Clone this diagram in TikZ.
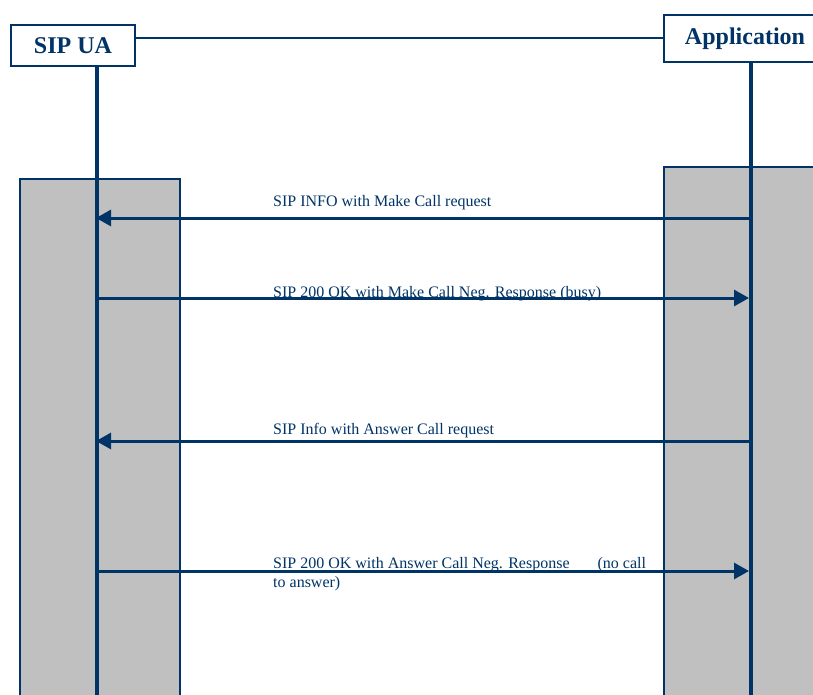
\documentclass[tikz,border=0pt]{standalone}
\usepackage{fontspec}
\setmainfont{Liberation Serif}
\usetikzlibrary{positioning,arrows.meta}
\definecolor{sipblue}{RGB}{0,51,102}
\definecolor{blkgray}{RGB}{192,192,192}

\begin{document}
\begin{tikzpicture}[x=1pt, y=-1pt,
  actor/.style={draw=sipblue, line width=1.6pt, fill=white, text=sipblue,
                font=\fontsize{24}{28}\selectfont\bfseries, inner sep=0pt},
  blk/.style={draw=sipblue, line width=1.8pt, fill=blkgray},
  life/.style={draw=sipblue, line width=3.4pt},
  msg/.style={-{Triangle[length=15pt,width=16pt]}, draw=sipblue, line width=3pt},
  lbl/.style={anchor=base west, text=sipblue, inner sep=0pt, align=left,
              font=\fontsize{16}{19}\selectfont}
]
\useasboundingbox (0,0) rectangle (813,695);

% grey activation blocks
\draw[blk] (20,179) rectangle (180,710);
\draw[blk] (664,167) rectangle (830,710);

% actors
\node[actor, minimum width=124pt, minimum height=41pt] (ua)  at (73,45.5)  {SIP UA};
\node[actor, minimum width=162pt, minimum height=47pt] (app) at (745,38.5) {Application};
\draw[draw=sipblue, line width=2pt] (ua.east |- app.west) -- (app.west);

% lifelines
\coordinate (uatop)  at ([xshift=24pt]ua.south);
\coordinate (apptop) at ([xshift=6pt]app.south);
\coordinate (uabot)  at (uatop |- 0,710);
\coordinate (appbot) at (apptop |- 0,710);
\draw[life] (uatop) -- (uabot);
\draw[life] (apptop) -- (appbot);

% message end points
\coordinate (ua1) at (96,218);  \coordinate (app1) at (749,218);
\coordinate (ua2) at (96,298);  \coordinate (app2) at (749,298);
\coordinate (ua3) at (96,441);  \coordinate (app3) at (749,441);
\coordinate (ua4) at (96,571);  \coordinate (app4) at (749,571);

% messages
\draw[msg] (app1) -- (ua1);
\draw[msg] (ua2) -- (app2);
\draw[msg] (app3) -- (ua3);
\draw[msg] (ua4) -- (app4);

\node[lbl] (m1) at (273,206) {SIP INFO with Make Call request};
\node[lbl] (m2) at (273,297) {SIP 200 OK with Make Call Neg. Response (busy)};
\node[lbl] (m3) at (273,434) {SIP Info with Answer Call request};
\node[lbl] (m4) at (273,587) {SIP 200 OK with Answer Call Neg. Response\hspace{24pt} (no call\\to answer)};
\end{tikzpicture}
\end{document}
